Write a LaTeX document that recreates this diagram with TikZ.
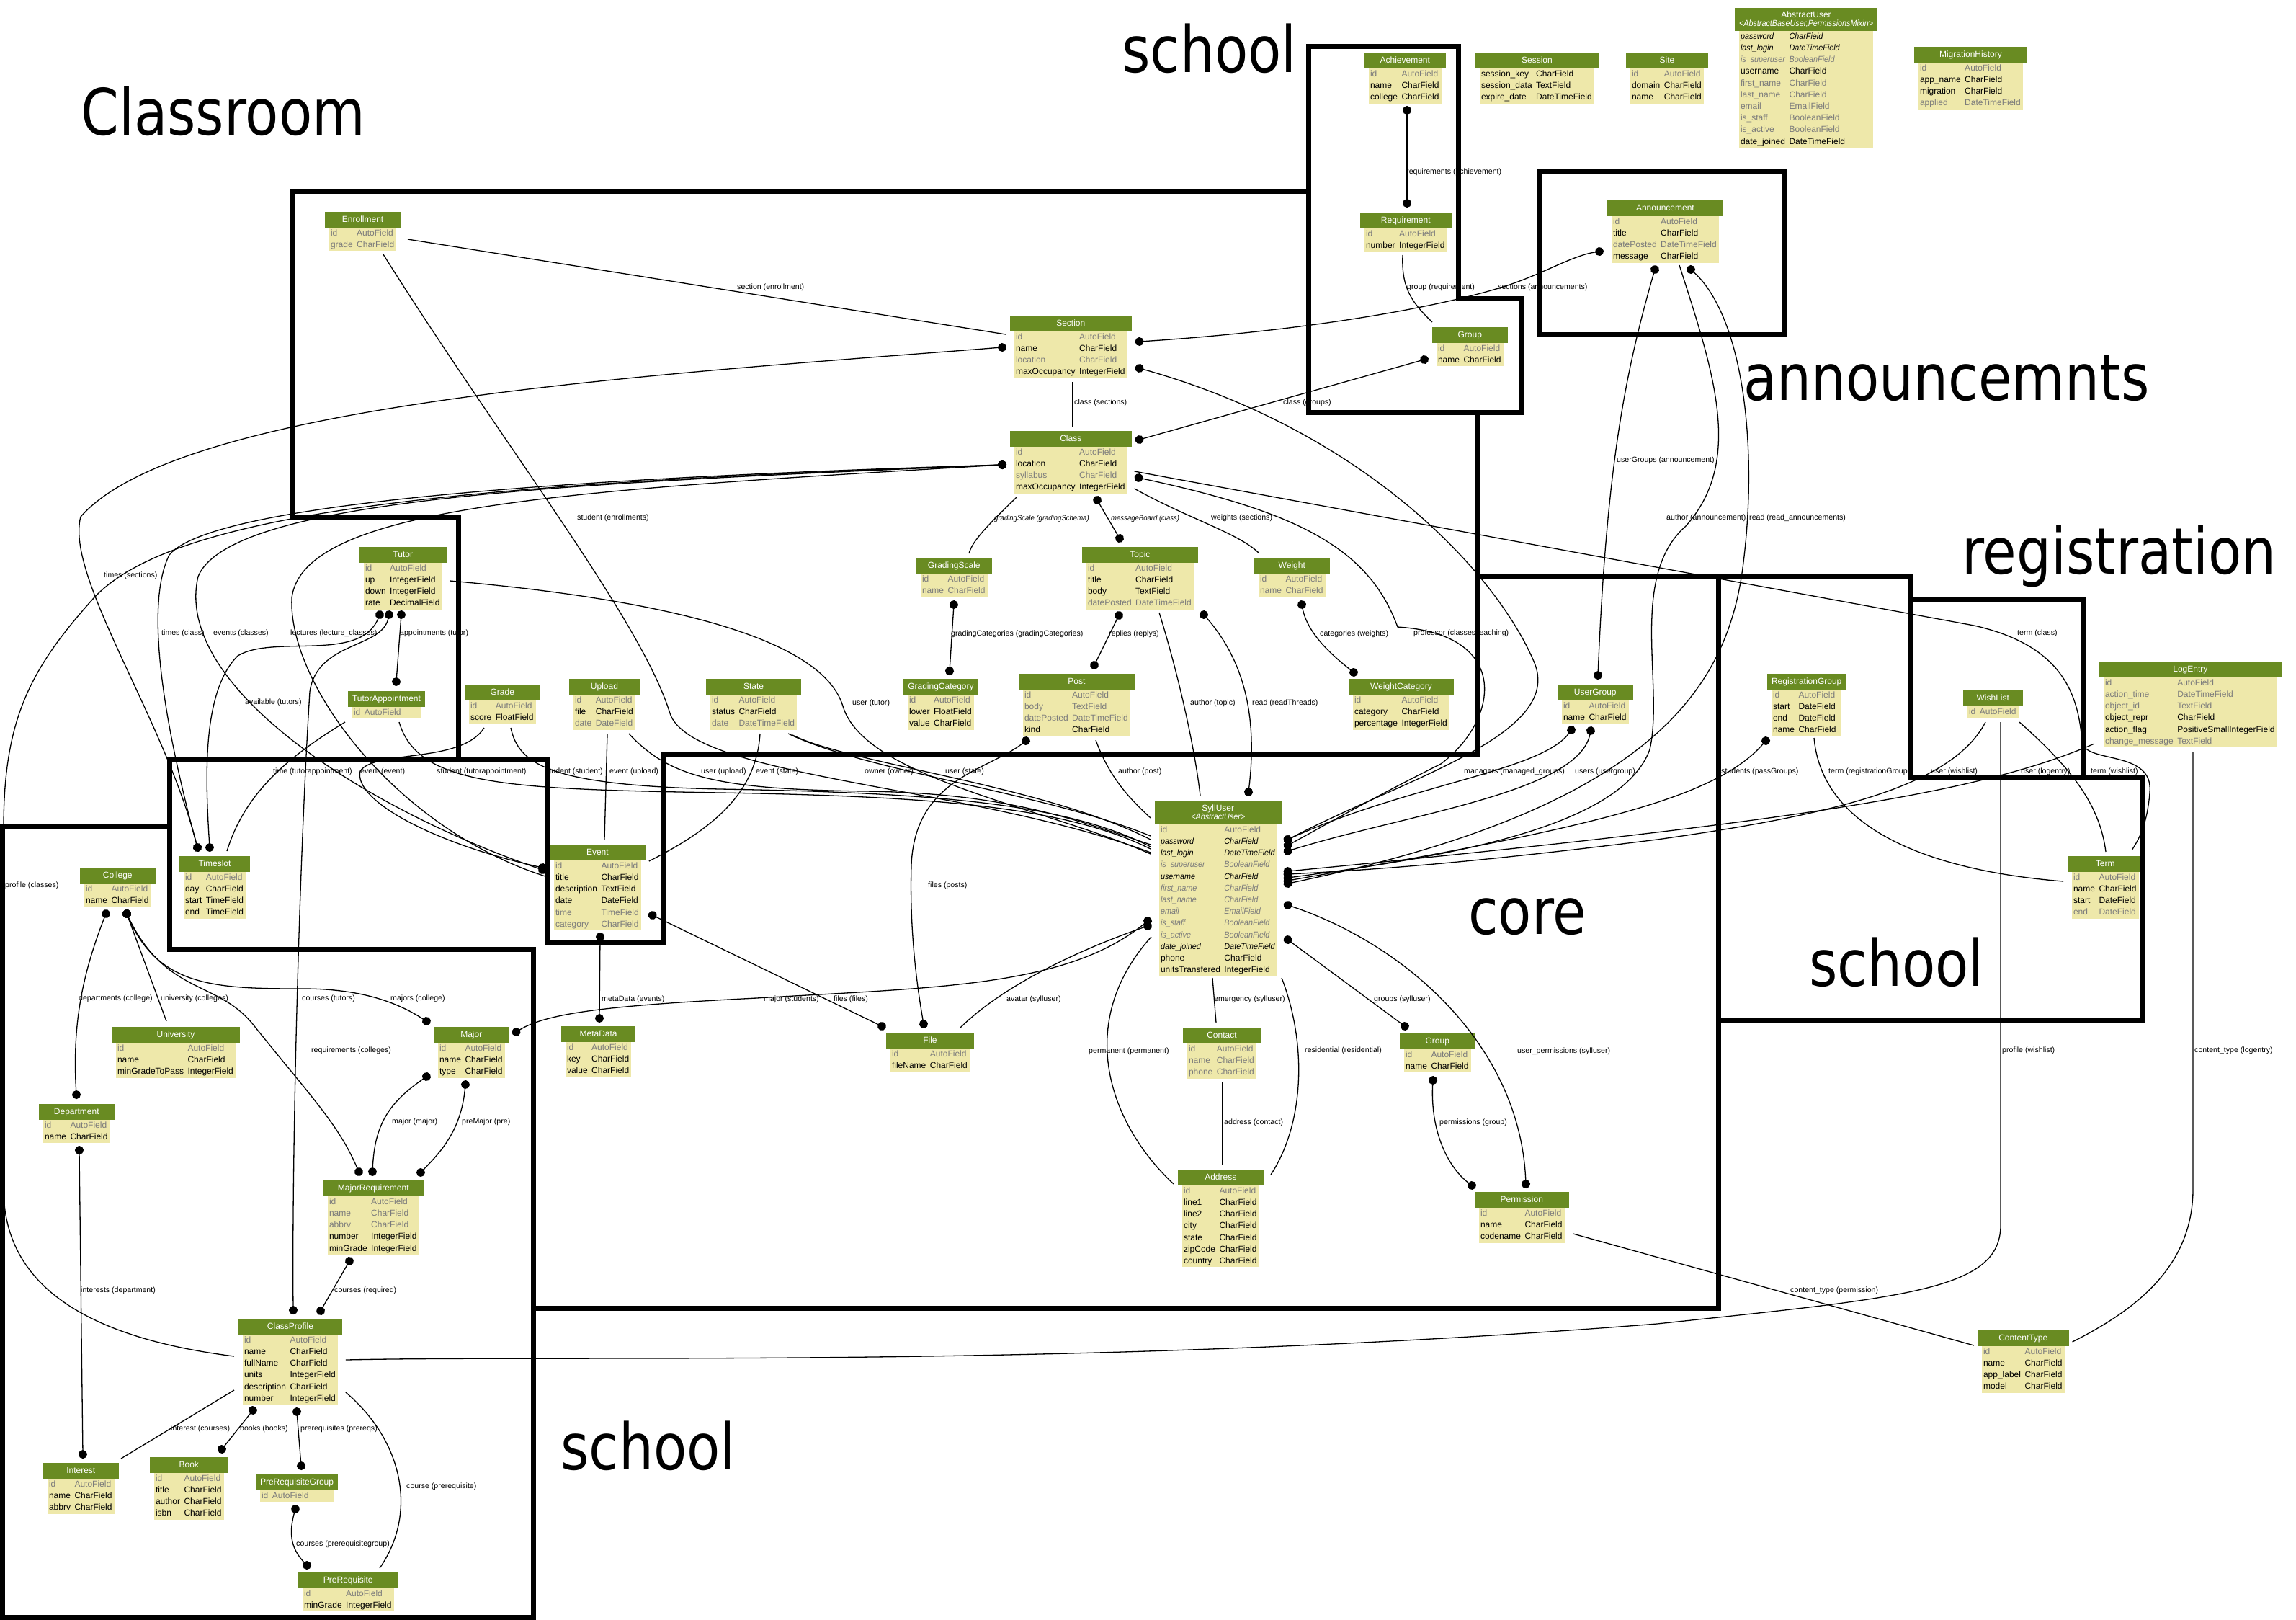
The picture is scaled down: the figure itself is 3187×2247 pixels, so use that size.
\documentclass[tikz,border=0pt]{standalone}
\usepackage{fontspec}
\setmainfont{Liberation Sans}[ItalicFeatures={FakeStretch=0.9}]
\newfontfamily\bigfont[FakeStretch=0.85]{DejaVu Sans}
\usepackage{colortbl}
\usetikzlibrary{arrows.meta,calc}
\definecolor{hdr}{HTML}{698B22}
\definecolor{tbody}{HTML}{EEE8AA}
\definecolor{gtxt}{HTML}{7B7B7B}
\newcommand\FG[2]{\color{gtxt}#1&\color{gtxt}#2\\}
\newcommand\FB[2]{#1&#2\\}
\newcommand\FGI[2]{\color{gtxt}\itshape #1&\color{gtxt}\itshape #2\\}
\newcommand\FBI[2]{\itshape #1&\itshape #2\\}
\newcommand\Hd[1]{\multicolumn{2}{@{}c@{}}{\cellcolor{hdr}\color{white}\rule[-7.5pt]{0pt}{22pt}#1}\\}
\newcommand\HdII[2]{\multicolumn{2}{@{}c@{}}{\cellcolor{hdr}\color{white}\rule[-9pt]{0pt}{32pt}\raisebox{4pt}{\begin{tabular}{@{}c@{}}#1\\[-4.5pt]\itshape #2\end{tabular}}}\\}
\newcommand\Tbl[4]{\node[tbl] (#1) at (#2) {\begin{tabular}{@{\hspace{2pt}}l@{\hspace{5.5pt}}l@{\hspace{3pt}}}#3#4\end{tabular}};}
\tikzset{
 tbl/.style={anchor=north west, inner sep=0pt, outer sep=0pt, fill=tbody, font=\fontsize{12}{16.2}\selectfont},
 lbl/.style={anchor=west, inner sep=0pt, font=\fontsize{10.6}{12}\selectfont},
 big/.style={anchor=base west, inner sep=0pt, font=\bigfont\fontsize{89}{100}\selectfont},
 rel/.style={line width=1.3pt},
 bx/.style={line width=7pt, line cap=rect},
 dE/.style={-{Circle[length=12pt]}, shorten >=-6pt},
 dS/.style={{Circle[length=12pt]}-, shorten <=-6pt},
 dB/.style={{Circle[length=12pt]}-{Circle[length=12pt]}, shorten >=-6pt, shorten <=-6pt}
}
\begin{document}
\begin{tikzpicture}[x=1pt,y=-1pt]
\fill[white] (0,0) rectangle (3187,2247);
\useasboundingbox (0,0) rectangle (3187,2247);

% ---------------- tables ----------------
\Tbl{Enrollment}{457,294}{\Hd{Enrollment}}{\FG{id}{AutoField}\FG{grade}{CharField}}
\Tbl{Section}{1408,438}{\Hd{Section}}{\FG{id}{AutoField}\FB{name}{CharField}\FG{location}{CharField}\FB{maxOccupancy}{IntegerField}}
\Tbl{Class}{1408,598}{\Hd{Class}}{\FG{id}{AutoField}\FB{location}{CharField}\FG{syllabus}{CharField}\FB{maxOccupancy}{IntegerField}}
\Tbl{Achievement}{1900,73}{\Hd{Achievement}}{\FG{id}{AutoField}\FB{name}{CharField}\FB{college}{CharField}}
\Tbl{Session}{2054,73}{\Hd{Session}}{\FB{session\_key}{CharField}\FB{session\_data}{TextField}\FB{expire\_date}{DateTimeField}}
\Tbl{Site}{2263,73}{\Hd{Site}}{\FG{id}{AutoField}\FB{domain}{CharField}\FB{name}{CharField}}
\Tbl{AbstractUser}{2414,11}{\HdII{AbstractUser}{<AbstractBaseUser,PermissionsMixin>}}{\FBI{password}{CharField}\FBI{last\_login}{DateTimeField}\FGI{is\_superuser}{BooleanField}\FB{username}{CharField}\FG{first\_name}{CharField}\FG{last\_name}{CharField}\FG{email}{EmailField}\FG{is\_staff}{BooleanField}\FG{is\_active}{BooleanField}\FB{date\_joined}{DateTimeField}}
\Tbl{MigrationHistory}{2663,65}{\Hd{MigrationHistory}}{\FG{id}{AutoField}\FB{app\_name}{CharField}\FB{migration}{CharField}\FG{applied}{DateTimeField}}
\Tbl{Requirement}{1894,295}{\Hd{Requirement}}{\FG{id}{AutoField}\FB{number}{IntegerField}}
\Tbl{GroupA}{1994,454}{\Hd{Group}}{\FG{id}{AutoField}\FB{name}{CharField}}
\Tbl{Announcement}{2237,278}{\Hd{Announcement}}{\FG{id}{AutoField}\FB{title}{CharField}\FG{datePosted}{DateTimeField}\FB{message}{CharField}}
\Tbl{Tutor}{505,759}{\Hd{Tutor}}{\FG{id}{AutoField}\FB{up}{IntegerField}\FB{down}{IntegerField}\FB{rate}{DecimalField}}
\Tbl{TutorAppointment}{489,959}{\Hd{TutorAppointment}}{\FG{id}{AutoField}}
\Tbl{Grade}{651,950}{\Hd{Grade}}{\FG{id}{AutoField}\FB{score}{FloatField}}
\Tbl{Upload}{796,942}{\Hd{Upload}}{\FG{id}{AutoField}\FB{file}{CharField}\FG{date}{DateField}}
\Tbl{State}{986,942}{\Hd{State}}{\FG{id}{AutoField}\FB{status}{CharField}\FG{date}{DateTimeField}}
\Tbl{GradingScale}{1278,774}{\Hd{GradingScale}}{\FG{id}{AutoField}\FG{name}{CharField}}
\Tbl{GradingCategory}{1260,942}{\Hd{GradingCategory}}{\FG{id}{AutoField}\FB{lower}{FloatField}\FB{value}{CharField}}
\Tbl{Topic}{1508,759}{\Hd{Topic}}{\FG{id}{AutoField}\FB{title}{CharField}\FB{body}{TextField}\FG{datePosted}{DateTimeField}}
\Tbl{Post}{1420,935}{\Hd{Post}}{\FG{id}{AutoField}\FG{body}{TextField}\FG{datePosted}{DateTimeField}\FB{kind}{CharField}}
\Tbl{Weight}{1747,774}{\Hd{Weight}}{\FG{id}{AutoField}\FG{name}{CharField}}
\Tbl{WeightCategory}{1878,942}{\Hd{WeightCategory}}{\FG{id}{AutoField}\FB{category}{CharField}\FB{percentage}{IntegerField}}
\Tbl{UserGroup}{2168,950}{\Hd{UserGroup}}{\FG{id}{AutoField}\FB{name}{CharField}}
\Tbl{RegistrationGroup}{2459,935}{\Hd{RegistrationGroup}}{\FG{id}{AutoField}\FB{start}{DateField}\FB{end}{DateField}\FB{name}{CharField}}
\Tbl{WishList}{2731,958}{\Hd{WishList}}{\FG{id}{AutoField}}
\Tbl{LogEntry}{2920,918}{\Hd{LogEntry}}{\FG{id}{AutoField}\FG{action\_time}{DateTimeField}\FG{object\_id}{TextField}\FB{object\_repr}{CharField}\FB{action\_flag}{PositiveSmallIntegerField}\FG{change\_message}{TextField}}
\Tbl{Term}{2876,1188}{\Hd{Term}}{\FG{id}{AutoField}\FB{name}{CharField}\FB{start}{DateField}\FG{end}{DateField}}
\Tbl{SyllUser}{1609,1112}{\HdII{SyllUser}{<AbstractUser>}}{\FG{id}{AutoField}\FBI{password}{CharField}\FBI{last\_login}{DateTimeField}\FGI{is\_superuser}{BooleanField}\FBI{username}{CharField}\FGI{first\_name}{CharField}\FGI{last\_name}{CharField}\FGI{email}{EmailField}\FGI{is\_staff}{BooleanField}\FGI{is\_active}{BooleanField}\FBI{date\_joined}{DateTimeField}\FB{phone}{CharField}\FB{unitsTransfered}{IntegerField}}
\Tbl{Timeslot}{255,1188}{\Hd{Timeslot}}{\FG{id}{AutoField}\FB{day}{CharField}\FB{start}{TimeField}\FB{end}{TimeField}}
\Tbl{Event}{769,1172}{\Hd{Event}}{\FG{id}{AutoField}\FB{title}{CharField}\FB{description}{TextField}\FB{date}{DateField}\FG{time}{TimeField}\FG{category}{CharField}}
\Tbl{College}{117,1204}{\Hd{College}}{\FG{id}{AutoField}\FB{name}{CharField}}
\Tbl{University}{161,1425}{\Hd{University}}{\FG{id}{AutoField}\FB{name}{CharField}\FB{minGradeToPass}{IntegerField}}
\Tbl{Department}{60,1532}{\Hd{Department}}{\FG{id}{AutoField}\FB{name}{CharField}}
\Tbl{Major}{608,1425}{\Hd{Major}}{\FG{id}{AutoField}\FB{name}{CharField}\FB{type}{CharField}}
\Tbl{MetaData}{785,1424}{\Hd{MetaData}}{\FG{id}{AutoField}\FB{key}{CharField}\FB{value}{CharField}}
\Tbl{File}{1236,1433}{\Hd{File}}{\FG{id}{AutoField}\FB{fileName}{CharField}}
\Tbl{Contact}{1648,1426}{\Hd{Contact}}{\FG{id}{AutoField}\FG{name}{CharField}\FG{phone}{CharField}}
\Tbl{GroupB}{1949,1434}{\Hd{Group}}{\FG{id}{AutoField}\FB{name}{CharField}}
\Tbl{Address}{1641,1623}{\Hd{Address}}{\FG{id}{AutoField}\FB{line1}{CharField}\FB{line2}{CharField}\FB{city}{CharField}\FB{state}{CharField}\FB{zipCode}{CharField}\FB{country}{CharField}}
\Tbl{Permission}{2053,1654}{\Hd{Permission}}{\FG{id}{AutoField}\FB{name}{CharField}\FB{codename}{CharField}}
\Tbl{MajorRequirement}{455,1638}{\Hd{MajorRequirement}}{\FG{id}{AutoField}\FG{name}{CharField}\FG{abbrv}{CharField}\FB{number}{IntegerField}\FB{minGrade}{IntegerField}}
\Tbl{ClassProfile}{337,1830}{\Hd{ClassProfile}}{\FG{id}{AutoField}\FB{name}{CharField}\FB{fullName}{CharField}\FB{units}{IntegerField}\FB{description}{CharField}\FB{number}{IntegerField}}
\Tbl{Interest}{66,2030}{\Hd{Interest}}{\FG{id}{AutoField}\FB{name}{CharField}\FB{abbrv}{CharField}}
\Tbl{Book}{214,2022}{\Hd{Book}}{\FG{id}{AutoField}\FB{title}{CharField}\FB{author}{CharField}\FB{isbn}{CharField}}
\Tbl{PreRequisiteGroup}{361,2046}{\Hd{PreRequisiteGroup}}{\FG{id}{AutoField}}
\Tbl{PreRequisite}{420,2182}{\Hd{PreRequisite}}{\FG{id}{AutoField}\FB{minGrade}{IntegerField}}
\Tbl{ContentType}{2751,1846}{\Hd{ContentType}}{\FG{id}{AutoField}\FB{name}{CharField}\FB{app\_label}{CharField}\FB{model}{CharField}}

% ---------------- connectors ----------------
\begin{scope}[rel]
\draw ([shift={(109,38)}]Enrollment.north west) -- ([shift={(-12,26)}]Section.north west);
\draw ([shift={(75,59)}]Enrollment.north west) .. controls (700,620) and (890,860) .. (930,990) .. controls (960,1080) and (1350,1090) .. ([shift={(-12,71)}]SyllUser.north west);
\draw[dB] ([shift={(-17,44)}]Section.north west) .. controls (900,520) and (250,560) .. (112,717) .. controls (90,800) and (230,1000) .. ([shift={(19,-12)}]Timeslot.north west);
\draw ([shift={(81,92)}]Section.north west) -- ([shift={(81,-6)}]Class.north west);
\draw[dB] ([shift={(17,36)}]Section.north east) .. controls (1800,460) and (1980,430) .. (2080,400) .. controls (2140,382) and (2180,355) .. ([shift={(-17,71)}]Announcement.north west);
\draw[dB] ([shift={(17,73)}]Section.north east) .. controls (1900,600) and (2080,800) .. (2130,920) .. controls (2170,1020) and (1950,1080) .. ([shift={(15,53)}]SyllUser.north east);
\draw[dB] ([shift={(17,12)}]Class.north east) -- ([shift={(-17,45)}]GroupA.north west);
\draw[dB] ([shift={(-17,47)}]Class.north west) .. controls (900,660) and (300,690) .. (235,770) .. controls (195,850) and (240,1050) .. ([shift={(19,-12)}]Timeslot.north west);
\draw[dB] ([shift={(-17,47)}]Class.north west) .. controls (800,670) and (320,690) .. (275,800) .. controls (240,950) and (500,1120) .. ([shift={(-16,35)}]Event.north west);
\draw[dS] ([shift={(-17,47)}]Class.north west) .. controls (800,680) and (420,700) .. (405,830) .. controls (400,950) and (550,1150) .. ([shift={(-12,44)}]Event.north west);
\draw[dS] ([shift={(-17,47)}]Class.north west) .. controls (700,670) and (250,700) .. (130,830) .. controls (40,930) and (5,1000) .. (5,1150) -- (5,1650) .. controls (5,1800) and (150,1860) .. ([shift={(-12,52)}]ClassProfile.north west);
\draw ([shift={(3,92)}]Class.north west) .. controls (1370,730) and (1350,750) .. ([shift={(67,-6)}]GradingScale.north west);
\draw[dB] ([shift={(115,96)}]Class.north west) -- ([shift={(46,-12)}]Topic.north west);
\draw ([shift={(10,80)}]Class.north east) .. controls (1650,720) and (1720,740) .. ([shift={(1,-6)}]Weight.north west);
\draw[dB] ([shift={(16,65)}]Class.north east) .. controls (1800,710) and (1900,760) .. (1940,870) .. controls (2100,880) and (2080,1000) .. (2000,1060) .. controls (1900,1110) and (1830,1150) .. ([shift={(15,61)}]SyllUser.north east);
\draw ([shift={(10,56)}]Class.north east) -- (2740,868) .. controls (2860,895) and (2885,960) .. (2890,1030) .. controls (2895,1060) and (2990,1040) .. (2984,1100) .. controls (2980,1150) and (2965,1170) .. ([shift={(83,-8)}]Term.north west);
\draw[dB] ([shift={(46,65)}]GradingScale.north west) -- ([shift={(58,-11)}]GradingCategory.north west);
\draw[dB] ([shift={(45,95)}]Topic.north west) -- ([shift={(99,-12)}]Post.north west);
\draw ([shift={(101,91)}]Topic.north west) .. controls (1640,950) and (1660,1050) .. ([shift={(57,-8)}]SyllUser.north west);
\draw[dB] ([shift={(163,94)}]Topic.north west) .. controls (1730,920) and (1745,1000) .. ([shift={(124,-13)}]SyllUser.north west);
\draw[dB] ([shift={(60,65)}]Weight.north west) .. controls (1815,880) and (1850,910) .. ([shift={(1,-9)}]WeightCategory.north west);
\draw[dB] ([shift={(4,93)}]Post.north west) .. controls (1370,1070) and (1270,1080) .. (1265,1200) .. controls (1262,1300) and (1275,1380) .. ([shift={(46,-12)}]File.north west);
\draw ([shift={(101,92)}]Post.north west) .. controls (1540,1080) and (1570,1110) .. ([shift={(-12,23)}]SyllUser.north west);
% top right
\draw[dB] ([shift={(53,80)}]Achievement.north west) -- ([shift={(59,-13)}]Requirement.north west);
\draw ([shift={(53,59)}]Requirement.north west) .. controls (1945,400) and (1960,420) .. ([shift={(-6,-7)}]GroupA.north west);
\draw[dB] ([shift={(60,96)}]Announcement.north west) .. controls (2255,520) and (2230,650) .. ([shift={(50,-13)}]UserGroup.north west);
\draw[dE] ([shift={(94,90)}]Announcement.north west) .. controls (2380,520) and (2420,640) .. (2340,730) .. controls (2260,800) and (2310,950) .. (2290,1040) .. controls (2250,1150) and (2000,1190) .. ([shift={(15,106)}]SyllUser.north east);
\draw[dB] ([shift={(110,96)}]Announcement.north west) .. controls (2420,440) and (2440,620) .. (2420,780) .. controls (2400,950) and (2300,1120) .. ([shift={(15,114)}]SyllUser.north east);
\draw[dB] ([shift={(13,63)}]UserGroup.north west) .. controls (2140,1070) and (1950,1090) .. ([shift={(15,53)}]SyllUser.north east);
\draw[dB] ([shift={(40,64)}]UserGroup.north west) .. controls (2190,1100) and (1950,1130) .. ([shift={(15,69)}]SyllUser.north east);
\draw[dB] ([shift={(-8,93)}]RegistrationGroup.north west) .. controls (2380,1110) and (2200,1150) .. ([shift={(15,110)}]SyllUser.north east);
\draw ([shift={(59,89)}]RegistrationGroup.north west) .. controls (2530,1160) and (2700,1210) .. ([shift={(-12,35)}]Term.north west);
\draw[dE] ([shift={(25,44)}]WishList.north west) .. controls (2710,1090) and (2550,1130) .. (2300,1165) .. controls (2100,1190) and (1950,1205) .. ([shift={(15,101)}]SyllUser.north east);
\draw[dE] ([shift={(-13,114)}]LogEntry.north west) .. controls (2750,1100) and (2500,1140) .. ([shift={(15,97)}]SyllUser.north east);
\draw ([shift={(72,44)}]WishList.north west) .. controls (2880,1070) and (2915,1120) .. ([shift={(47,-6)}]Term.north west);
\draw ([shift={(46,44)}]WishList.north west) -- (2777,1700) .. controls (2777,1790) and (2650,1800) .. (2300,1837) .. controls (1500,1900) and (800,1880) .. ([shift={(11,57)}]ClassProfile.north east);
\draw ([shift={(124,125)}]LogEntry.north west) -- (3044,1650) .. controls (3044,1760) and (2960,1820) .. ([shift={(11,16)}]ContentType.north east);
\draw ([shift={(12,58)}]Permission.north east) -- ([shift={(-11,21)}]ContentType.north west);
% core lower
\draw[dB] ([shift={(15,144)}]SyllUser.north east) .. controls (1950,1310) and (2110,1450) .. ([shift={(65,-11)}]Permission.north west);
\draw[dB] ([shift={(15,192)}]SyllUser.north east) -- ([shift={(1,-10)}]GroupB.north west);
\draw[dB] ([shift={(40,65)}]GroupB.north west) .. controls (1985,1570) and (2010,1620) .. ([shift={(-10,-9)}]Permission.north west);
\draw ([shift={(74,245)}]SyllUser.north west) -- ([shift={(40,-7)}]Contact.north west);
\draw ([shift={(170,245)}]SyllUser.north west) .. controls (1815,1450) and (1810,1560) .. ([shift={(123,7)}]Address.north west);
\draw ([shift={(-11,188)}]SyllUser.north west) .. controls (1490,1420) and (1540,1560) .. ([shift={(-12,20)}]Address.north west);
\draw ([shift={(49,75)}]Contact.north west) -- ([shift={(56,-6)}]Address.north west);
\draw[dB] ([shift={(-16,166)}]SyllUser.north west) .. controls (1480,1370) and (1300,1370) .. (1050,1385) .. controls (850,1395) and (760,1405) .. ([shift={(16,7)}]Major.north east);
\draw[dE] ([shift={(97,-7)}]File.north west) .. controls (1400,1360) and (1520,1310) .. ([shift={(-16,173)}]SyllUser.north west);
\draw[dB] ([shift={(16,98)}]Event.north east) -- ([shift={(-12,-9)}]File.north west);
\draw[dB] ([shift={(64,128)}]Event.north west) -- ([shift={(47,-11)}]MetaData.north west);
\draw ([shift={(47,76)}]Upload.north west) -- ([shift={(70,-7)}]Event.north west);
\draw ([shift={(-9,76)}]Upload.north east) .. controls (930,1080) and (1000,1095) .. (1200,1098) .. controls (1400,1100) and (1500,1140) .. ([shift={(-12,60)}]SyllUser.north west);
\draw ([shift={(69,76)}]State.north west) .. controls (1050,1100) and (990,1150) .. ([shift={(11,23)}]Event.north east);
\draw ([shift={(-12,76)}]State.north east) .. controls (1200,1070) and (1450,1100) .. ([shift={(-12,48)}]SyllUser.north west);
\draw ([shift={(-6,78)}]State.north east) .. controls (1180,1060) and (1450,1090) .. ([shift={(-12,53)}]SyllUser.north west);
\draw ([shift={(65,43)}]TutorAppointment.north west) .. controls (580,1090) and (700,1095) .. (1000,1100) .. controls (1300,1105) and (1480,1120) .. ([shift={(-12,66)}]SyllUser.north west);
\draw ([shift={(-10,43)}]TutorAppointment.north west) .. controls (400,1050) and (340,1100) .. ([shift={(60,-7)}]Timeslot.north west);
\draw[dE] ([shift={(21,60)}]Grade.north west) .. controls (640,1060) and (520,1040) .. (500,1070) .. controls (490,1110) and (600,1170) .. ([shift={(-16,32)}]Event.north west);
\draw ([shift={(58,60)}]Grade.north west) .. controls (720,1060) and (760,1090) .. (1000,1095) .. controls (1300,1100) and (1480,1115) .. ([shift={(-12,63)}]SyllUser.north west);
\draw ([shift={(11,47)}]Tutor.north east) .. controls (900,830) and (1140,880) .. (1170,980) .. controls (1200,1080) and (1450,1120) .. ([shift={(-12,73)}]SyllUser.north west);
\draw[dB] ([shift={(22,94)}]Tutor.north west) .. controls (500,920) and (380,880) .. (330,910) .. controls (280,960) and (285,1080) .. ([shift={(36,-12)}]Timeslot.north west);
\draw[dB] ([shift={(35,94)}]Tutor.north west) .. controls (530,900) and (440,890) .. (430,960) .. controls (415,1200) and (405,1600) .. ([shift={(70,-12)}]ClassProfile.north west);
\draw[dB] ([shift={(52,94)}]Tutor.north west) -- ([shift={(61,-13)}]TutorAppointment.north west);
% school lower-left
\draw[dB] ([shift={(30,64)}]College.north west) .. controls (115,1350) and (100,1420) .. ([shift={(46,-13)}]Department.north west);
\draw[dS] ([shift={(59,64)}]College.north west) -- ([shift={(70,-8)}]University.north west);
\draw[dB] ([shift={(59,64)}]College.north west) .. controls (220,1370) and (300,1372) .. (420,1372) .. controls (500,1372) and (550,1390) .. ([shift={(-16,-8)}]Major.north west);
\draw[dB] ([shift={(59,64)}]College.north west) .. controls (230,1380) and (300,1360) .. (350,1420) .. controls (430,1520) and (470,1560) .. ([shift={(43,-12)}]MajorRequirement.north west);
\draw[dB] ([shift={(-16,69)}]Major.north west) .. controls (540,1530) and (520,1560) .. ([shift={(62,-12)}]MajorRequirement.north west);
\draw[dB] ([shift={(38,80)}]Major.north west) .. controls (640,1570) and (610,1600) .. ([shift={(129,-11)}]MajorRequirement.north west);
\draw[dB] ([shift={(30,112)}]MajorRequirement.north west) -- ([shift={(108,-11)}]ClassProfile.north west);
\draw[dB] ([shift={(50,64)}]Department.north west) -- ([shift={(49,-12)}]Interest.north west);
\draw ([shift={(-12,99)}]ClassProfile.north west) -- ([shift={(102,-6)}]Interest.north west);
\draw[dB] ([shift={(14,127)}]ClassProfile.north west) -- ([shift={(94,-11)}]Book.north west);
\draw[dB] ([shift={(75,129)}]ClassProfile.north west) -- ([shift={(57,-12)}]PreRequisiteGroup.north west);
\draw ([shift={(11,102)}]ClassProfile.north east) .. controls (560,2000) and (580,2100) .. ([shift={(107,-6)}]PreRequisite.north west);
\draw[dB] ([shift={(49,48)}]PreRequisiteGroup.north west) .. controls (400,2130) and (405,2150) .. ([shift={(6,-10)}]PreRequisite.north west);
\end{scope}

% ---------------- labels ----------------
\node[lbl] (L1) at (1023,399) {section (enrollment)};
\node[lbl] (L2) at (801,719) {student (enrollments)};
\node[lbl] (L3) at (144,799) {times (sections)};
\node[lbl] (L4) at (1491,559) {class (sections)};
\node[lbl] (L5) at (2079,399) {sections (announcements)};
\node[lbl] (L7) at (1781,559) {class (groups)};
\node[lbl] (L8) at (224,879) {times (class)};
\node[lbl] (L9) at (296,879) {events (classes)};
\node[lbl] (L10) at (403,879) {lectures (lecture\_classes)};
\node[lbl] (L11) at (7,1229) {profile (classes)};
\node[lbl,font=\fontsize{10.6}{12}\selectfont\itshape] (L12) at (1380,720) {gradingScale (gradingSchema)};
\node[lbl,font=\fontsize{10.6}{12}\selectfont\itshape] (L13) at (1542,720) {messageBoard (class)};
\node[lbl] (L14) at (1681,719) {weights (sections)};
\node[lbl] (L15) at (1962,879) {professor (classesTeaching)};
\node[lbl] (L16) at (2800,879) {term (class)};
\node[lbl] (L17) at (1320,880) {gradingCategories (gradingCategories)};
\node[lbl] (L18) at (1539,880) {replies (replys)};
\node[lbl] (L19) at (1652,976) {author (topic)};
\node[lbl] (L20) at (1738,976) {read (readThreads)};
\node[lbl] (L21) at (1832,880) {categories (weights)};
\node[lbl] (L22) at (1288,1229) {files (posts)};
\node[lbl] (L23) at (1552,1071) {author (post)};
\node[lbl] (L24) at (1952,239) {requirements (achievement)};
\node[lbl] (L25) at (1953,399) {group (requirement)};
\node[lbl] (L26) at (2244,639) {userGroups (announcement)};
\node[lbl] (L27) at (2313,719) {author (announcement)};
\node[lbl] (L28) at (2428,719) {read (read\_announcements)};
\node[lbl] (L29) at (2032,1071) {managers (managed\_groups)};
\node[lbl] (L30) at (2186,1071) {users (usergroup)};
\node[lbl] (L31) at (2389,1071) {students (passGroups)};
\node[lbl] (L32) at (2538,1071) {term (registrationGroups)};
\node[lbl] (L33) at (2680,1071) {user (wishlist)};
\node[lbl] (L34) at (2805,1071) {user (logentry)};
\node[lbl] (L35) at (2902,1071) {term (wishlist)};
\node[lbl] (L36) at (2779,1458) {profile (wishlist)};
\node[lbl] (L37) at (3046,1458) {content\_type (logentry)};
\node[lbl] (L38) at (2485,1791) {content\_type (permission)};
\node[lbl] (L39) at (2106,1459) {user\_permissions (sylluser)};
\node[lbl] (L40) at (1907,1387) {groups (sylluser)};
\node[lbl] (L41) at (1998,1558) {permissions (group)};
\node[lbl] (L42) at (1685,1387) {emergency (sylluser)};
\node[lbl] (L43) at (1811,1458) {residential (residential)};
\node[lbl] (L44) at (1511,1459) {permanent (permanent)};
\node[lbl] (L45) at (1699,1558) {address (contact)};
\node[lbl] (L46) at (1060,1387) {major (students)};
\node[lbl] (L47) at (1397,1387) {avatar (sylluser)};
\node[lbl] (L48) at (1157,1387) {files (files)};
\node[lbl] (L49) at (835,1387) {metaData (events)};
\node[lbl] (L50) at (846,1071) {event (upload)};
\node[lbl] (L51) at (973,1071) {user (upload)};
\node[lbl] (L52) at (1049,1071) {event (state)};
\node[lbl] (L53) at (1312,1071) {user (state)};
\node[lbl] (L54) at (1200,1071) {owner (owner)};
\node[lbl] (L55) at (606,1071) {student (tutorappointment)};
\node[lbl] (L56) at (379,1071) {time (tutorappointment)};
\node[lbl] (L57) at (500,1071) {event (event)};
\node[lbl] (L58) at (757,1071) {student (student)};
\node[lbl] (L59) at (1183,976) {user (tutor)};
\node[lbl] (L60) at (340,975) {available (tutors)};
\node[lbl] (L61) at (419,1386) {courses (tutors)};
\node[lbl] (L62) at (555,879) {appointments (tutor)};
\node[lbl] (L63) at (109,1386) {departments (college)};
\node[lbl] (L64) at (223,1386) {university (colleges)};
\node[lbl] (L65) at (542,1386) {majors (college)};
\node[lbl] (L66) at (432,1458) {requirements (colleges)};
\node[lbl] (L67) at (544,1557) {major (major)};
\node[lbl] (L68) at (641,1557) {preMajor (pre)};
\node[lbl] (L69) at (464,1791) {courses (required)};
\node[lbl] (L70) at (112,1791) {interests (department)};
\node[lbl] (L71) at (237,1983) {interest (courses)};
\node[lbl] (L72) at (333,1983) {books (books)};
\node[lbl] (L73) at (417,1983) {prerequisites (prereqs)};
\node[lbl] (L74) at (564,2063) {course (prerequisite)};
\node[lbl] (L75) at (411,2143) {courses (prerequisitegroup)};

% ---------------- big area titles ----------------
\node[big] (tClassroom) at (112,187) {Classroom};
\node[big] (tSchoolA) at (1557,100) {school};
\node[big] (tAnn) at (2420,555) {announcemnts};
\node[big] (tReg) at (2723,796) {registration};
\node[big] (tCore) at (2038,1296) {core};
\node[big] (tSchoolB) at (2511,1368) {school};
\node[big] (tSchoolC) at (778,2039) {school};

% ---------------- area outlines ----------------
\draw[bx] (405,265) -- (1816,265);
\draw[bx] (405,265) -- (405,718) -- (636,718) -- (636,1054);
\draw[bx] (235,1054) -- (759,1054) -- (759,1307) -- (921,1307) -- (921,1047) -- (2051,1047) -- (2051,572);
\draw[bx] (235,1054) -- (235,1317) -- (740,1317) -- (740,2244);
\draw[bx] (3,1147) -- (235,1147);
\draw[bx] (3,1147) -- (3,2244) -- (740,2244);
\draw[bx] (740,1815) -- (2385,1815);
\draw[bx] (1816,64) -- (2024,64) -- (2024,414) -- (2111,414) -- (2111,572) -- (1816,572) -- cycle;
\draw[bx] (2136,237) rectangle (2477,464);
\draw[bx] (2051,1047) -- (2051,799) -- (2652,799) -- (2652,1078);
\draw[bx] (2385,799) -- (2385,1815);
\draw[bx] (2652,832) -- (2892,832) -- (2892,1078);
\draw[bx] (2652,1078) -- (2974,1078) -- (2974,1416) -- (2385,1416);
\end{tikzpicture}
\end{document}
